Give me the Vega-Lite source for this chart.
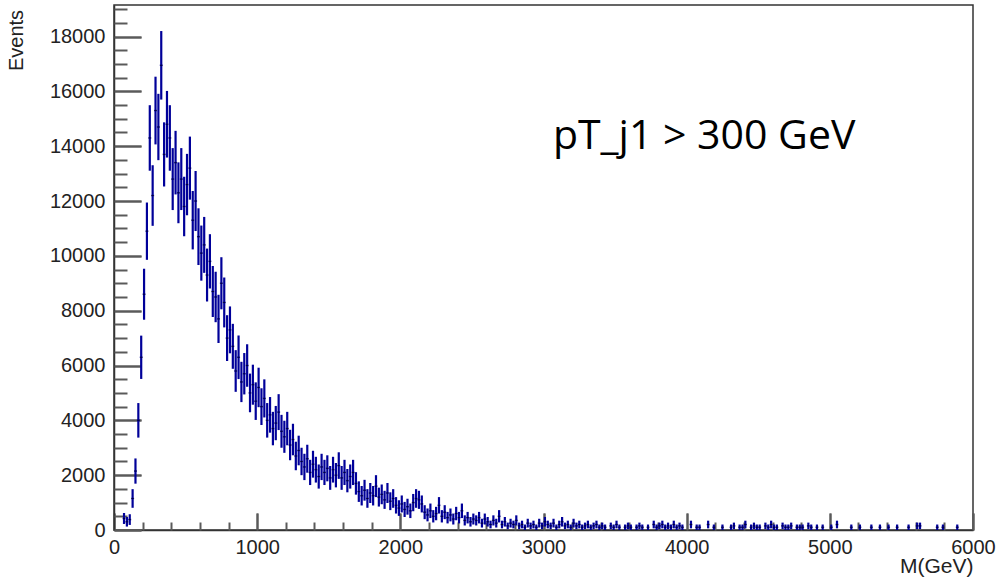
{
  "$schema": "https://vega.github.io/schema/vega-lite/v6.json",
  "width": 859,
  "height": 525,
  "autosize": {"type": "none"},
  "padding": {"left": 114, "top": 5, "right": 29, "bottom": 50},
  "background": "white",
  "config": {"view": {"stroke": "#333333", "strokeWidth": 1.5}, "font": "Liberation Sans"},
  "datasets": {
    "hist": [
      {"m":70,"n":420,"e":200},{"m":90,"n":300,"e":175},{"m":110,"n":380,"e":195},{"m":130,"n":1150,"e":340},
      {"m":150,"n":2150,"e":460},{"m":170,"n":4000,"e":630},{"m":190,"n":6300,"e":790},{"m":210,"n":8600,"e":930},
      {"m":230,"n":10900,"e":1045},{"m":250,"n":14300,"e":1195},{"m":270,"n":12200,"e":1105},{"m":290,"n":15300,"e":1235},
      {"m":310,"n":14700,"e":1210},{"m":330,"n":16950,"e":1250},{"m":350,"n":13700,"e":1170},{"m":370,"n":14800,"e":1215},
      {"m":390,"n":14300,"e":1195},{"m":410,"n":12800,"e":1130},{"m":430,"n":13400,"e":1160},{"m":450,"n":12300,"e":1110},
      {"m":470,"n":12800,"e":1130},{"m":490,"n":11800,"e":1085},{"m":510,"n":12600,"e":1120},{"m":530,"n":13200,"e":1150},
      {"m":550,"n":11300,"e":1065},{"m":570,"n":12000,"e":1095},{"m":590,"n":10700,"e":1035},{"m":610,"n":10100,"e":1005},
      {"m":630,"n":10400,"e":1020},{"m":650,"n":9300,"e":965},{"m":670,"n":9800,"e":990},{"m":690,"n":8700,"e":930},
      {"m":710,"n":8500,"e":920},{"m":730,"n":7700,"e":880},{"m":750,"n":9000,"e":950},{"m":770,"n":8300,"e":910},
      {"m":790,"n":7000,"e":835},{"m":810,"n":7300,"e":855},{"m":830,"n":6700,"e":820},{"m":850,"n":5800,"e":760},
      {"m":870,"n":6300,"e":795},{"m":890,"n":5400,"e":735},{"m":910,"n":5700,"e":755},{"m":930,"n":6000,"e":775},
      {"m":950,"n":5000,"e":705},{"m":970,"n":5300,"e":730},{"m":990,"n":4700,"e":685},{"m":1010,"n":5200,"e":720},
      {"m":1030,"n":4500,"e":670},{"m":1050,"n":4800,"e":695},{"m":1070,"n":4000,"e":630},{"m":1090,"n":4200,"e":650},
      {"m":1110,"n":3700,"e":610},{"m":1130,"n":3900,"e":625},{"m":1150,"n":4300,"e":655},{"m":1170,"n":3600,"e":600},
      {"m":1190,"n":3400,"e":585},{"m":1210,"n":3700,"e":610},{"m":1230,"n":3100,"e":555},{"m":1250,"n":3300,"e":575},
      {"m":1270,"n":2700,"e":520},{"m":1290,"n":2900,"e":540},{"m":1310,"n":2500,"e":500},{"m":1330,"n":2300,"e":480},
      {"m":1350,"n":2600,"e":510},{"m":1370,"n":2100,"e":460},{"m":1390,"n":2400,"e":490},{"m":1410,"n":2200,"e":470},
      {"m":1430,"n":1950,"e":440},{"m":1450,"n":2300,"e":480},{"m":1470,"n":2100,"e":460},{"m":1490,"n":2250,"e":475},
      {"m":1510,"n":1900,"e":435},{"m":1530,"n":2200,"e":470},{"m":1550,"n":2000,"e":445},{"m":1570,"n":2350,"e":485},
      {"m":1590,"n":1900,"e":435},{"m":1610,"n":2100,"e":460},{"m":1630,"n":1800,"e":425},{"m":1650,"n":1950,"e":440},
      {"m":1670,"n":2100,"e":460},{"m":1690,"n":1700,"e":410},{"m":1710,"n":1400,"e":375},{"m":1730,"n":1250,"e":355},
      {"m":1750,"n":1450,"e":380},{"m":1770,"n":1150,"e":340},{"m":1790,"n":1350,"e":365},{"m":1810,"n":1250,"e":355},
      {"m":1830,"n":1600,"e":400},{"m":1850,"n":1200,"e":345},{"m":1870,"n":1300,"e":360},{"m":1890,"n":1100,"e":330},
      {"m":1910,"n":1350,"e":365},{"m":1930,"n":1050,"e":325},{"m":1950,"n":1150,"e":340},{"m":1970,"n":900,"e":300},
      {"m":1990,"n":800,"e":285},{"m":2010,"n":950,"e":310},{"m":2030,"n":750,"e":275},{"m":2050,"n":850,"e":290},
      {"m":2070,"n":700,"e":265},{"m":2090,"n":1000,"e":315},{"m":2110,"n":1150,"e":340},{"m":2130,"n":1100,"e":330},
      {"m":2150,"n":950,"e":310},{"m":2170,"n":650,"e":255},{"m":2190,"n":550,"e":235},{"m":2210,"n":700,"e":265},
      {"m":2230,"n":500,"e":225},{"m":2250,"n":600,"e":245},{"m":2270,"n":900,"e":300},{"m":2290,"n":500,"e":225},
      {"m":2310,"n":650,"e":255},{"m":2330,"n":450,"e":210},{"m":2350,"n":550,"e":235},{"m":2370,"n":400,"e":200},
      {"m":2390,"n":600,"e":245},{"m":2410,"n":450,"e":210},{"m":2430,"n":700,"e":265},{"m":2450,"n":350,"e":185},
      {"m":2470,"n":450,"e":210},{"m":2490,"n":300,"e":175},{"m":2510,"n":400,"e":200},{"m":2530,"n":350,"e":185},
      {"m":2550,"n":450,"e":210},{"m":2570,"n":250,"e":160},{"m":2590,"n":400,"e":200},{"m":2610,"n":300,"e":175},
      {"m":2630,"n":200,"e":140},{"m":2650,"n":350,"e":185},{"m":2670,"n":250,"e":160},{"m":2690,"n":500,"e":225},
      {"m":2710,"n":200,"e":140},{"m":2730,"n":300,"e":175},{"m":2750,"n":150,"e":120},{"m":2770,"n":250,"e":160},
      {"m":2790,"n":200,"e":140},{"m":2810,"n":350,"e":185},{"m":2830,"n":150,"e":120},{"m":2850,"n":200,"e":140},
      {"m":2870,"n":100,"e":100},{"m":2890,"n":250,"e":160},{"m":2910,"n":150,"e":120},{"m":2930,"n":200,"e":140},
      {"m":2950,"n":100,"e":100},{"m":2970,"n":250,"e":160},{"m":2990,"n":150,"e":120},{"m":3010,"n":300,"e":175},
      {"m":3030,"n":200,"e":140},{"m":3050,"n":150,"e":120},{"m":3070,"n":250,"e":160},{"m":3090,"n":100,"e":100},
      {"m":3110,"n":200,"e":140},{"m":3130,"n":300,"e":175},{"m":3150,"n":150,"e":120},{"m":3170,"n":200,"e":140},
      {"m":3190,"n":100,"e":100},{"m":3210,"n":250,"e":160},{"m":3230,"n":150,"e":120},{"m":3250,"n":200,"e":140},
      {"m":3270,"n":100,"e":100},{"m":3290,"n":150,"e":120},{"m":3310,"n":200,"e":140},{"m":3330,"n":100,"e":100},
      {"m":3350,"n":150,"e":120},{"m":3370,"n":200,"e":140},{"m":3390,"n":100,"e":100},{"m":3410,"n":150,"e":120},
      {"m":3430,"n":100,"e":100},{"m":3470,"n":150,"e":120},{"m":3490,"n":100,"e":100},{"m":3510,"n":200,"e":140},
      {"m":3530,"n":100,"e":100},{"m":3570,"n":100,"e":100},{"m":3590,"n":150,"e":120},{"m":3610,"n":100,"e":100},
      {"m":3650,"n":100,"e":100},{"m":3670,"n":150,"e":120},{"m":3690,"n":100,"e":100},{"m":3730,"n":100,"e":100},
      {"m":3770,"n":200,"e":140},{"m":3790,"n":100,"e":100},{"m":3810,"n":150,"e":120},{"m":3830,"n":200,"e":140},
      {"m":3850,"n":100,"e":100},{"m":3870,"n":150,"e":120},{"m":3890,"n":100,"e":100},{"m":3910,"n":200,"e":140},
      {"m":3930,"n":100,"e":100},{"m":3950,"n":150,"e":120},{"m":3970,"n":100,"e":100},{"m":4030,"n":200,"e":140},
      {"m":4070,"n":100,"e":100},{"m":4090,"n":100,"e":100},{"m":4150,"n":200,"e":140},{"m":4190,"n":100,"e":100},
      {"m":4250,"n":100,"e":100},{"m":4310,"n":100,"e":100},{"m":4330,"n":150,"e":120},{"m":4370,"n":100,"e":100},
      {"m":4390,"n":100,"e":100},{"m":4410,"n":200,"e":140},{"m":4450,"n":100,"e":100},{"m":4470,"n":150,"e":120},
      {"m":4490,"n":100,"e":100},{"m":4510,"n":100,"e":100},{"m":4550,"n":150,"e":120},{"m":4570,"n":100,"e":100},
      {"m":4590,"n":200,"e":140},{"m":4610,"n":100,"e":100},{"m":4630,"n":100,"e":100},{"m":4670,"n":150,"e":120},
      {"m":4690,"n":100,"e":100},{"m":4710,"n":100,"e":100},{"m":4730,"n":150,"e":120},{"m":4770,"n":100,"e":100},
      {"m":4790,"n":100,"e":100},{"m":4810,"n":100,"e":100},{"m":4850,"n":150,"e":120},{"m":4870,"n":100,"e":100},
      {"m":4910,"n":100,"e":100},{"m":4950,"n":100,"e":100},{"m":5010,"n":100,"e":100},{"m":5050,"n":200,"e":140},
      {"m":5150,"n":100,"e":100},{"m":5210,"n":100,"e":100},{"m":5290,"n":100,"e":100},{"m":5350,"n":100,"e":100},
      {"m":5410,"n":100,"e":100},{"m":5470,"n":100,"e":100},{"m":5550,"n":100,"e":100},{"m":5610,"n":150,"e":120},
      {"m":5630,"n":150,"e":120},{"m":5750,"n":100,"e":100},{"m":5790,"n":100,"e":100},{"m":5890,"n":100,"e":100}
    ]
  },
  "resolve": {"axis": {"x": "independent", "y": "independent"}},
  "layer": [
    {
      "data": {"name": "hist"},
      "mark": {"type": "errorbar", "ticks": false, "color": "#000099", "thickness": 2.2},
      "encoding": {
        "x": {
          "field": "m", "type": "quantitative",
          "scale": {"domain": [0, 6000], "nice": false, "zero": false},
          "axis": {
            "orient": "bottom",
            "title": "M(GeV)",
            "values": [0,1000,2000,3000,4000,5000,6000],
            "format": "d",
            "ticks": true, "tickSize": -17, "tickColor": "#5a5a5a", "tickWidth": 2,
            "domainColor": "#333333", "domainWidth": 1.5,
            "grid": false,
            "labelFont": "Liberation Sans", "labelFontSize": 20, "labelColor": "#222222",
            "labelPadding": 24, "labelFlush": false, "labelOverlap": false,
            "titleFont": "Liberation Sans", "titleFontSize": 21, "titleFontWeight": "normal", "titleColor": "#222222",
            "titleX": 859, "titleY": 42, "titleAlign": "right", "titleAnchor": null, "titleBaseline": "alphabetic"
          }
        },
        "y": {
          "field": "n", "type": "quantitative",
          "scale": {"domain": [0, 19150], "nice": false},
          "axis": {
            "orient": "left",
            "title": "Events",
            "values": [0,2000,4000,6000,8000,10000,12000,14000,16000,18000],
            "format": "d",
            "ticks": true, "tickSize": -27, "tickColor": "#5a5a5a", "tickWidth": 2,
            "domainColor": "#333333", "domainWidth": 1.5,
            "grid": false,
            "labelFont": "Liberation Sans", "labelFontSize": 20, "labelColor": "#222222",
            "labelPadding": 36, "labelFlush": false, "labelOverlap": false,
            "titleFont": "Liberation Sans", "titleFontSize": 20, "titleFontWeight": "normal", "titleColor": "#222222",
            "titleX": -92, "titleY": 35, "titleAlign": "center", "titleAnchor": null, "titleBaseline": "alphabetic", "titleAngle": -90
          }
        },
        "yError": {"field": "e"}
      }
    },
    {
      "data": {"name": "hist"},
      "mark": {"type": "tick", "orient": "horizontal", "size": 3, "thickness": 1.5, "color": "#000099"},
      "encoding": {
        "x": {
          "field": "m", "type": "quantitative",
          "axis": {
            "orient": "top", "offset": -525,
            "title": null,
            "values": [200,400,600,800,1200,1400,1600,1800,2200,2400,2600,2800,3200,3400,3600,3800,4200,4400,4600,4800,5200,5400,5600,5800],
            "labels": false, "domain": false, "grid": false,
            "ticks": true, "tickSize": 8, "tickColor": "#5a5a5a", "tickWidth": 2
          }
        },
        "y": {
          "field": "n", "type": "quantitative",
          "axis": {
            "orient": "right", "offset": -859,
            "title": null,
            "values": [500,1000,1500,2500,3000,3500,4500,5000,5500,6500,7000,7500,8500,9000,9500,10500,11000,11500,12500,13000,13500,14500,15000,15500,16500,17000,17500,18500,19000],
            "labels": false, "domain": false, "grid": false,
            "ticks": true, "tickSize": 13, "tickColor": "#5a5a5a", "tickWidth": 2
          }
        }
      }
    },
    {
      "data": {"name": "hist"},
      "mark": {"type": "tick", "orient": "horizontal", "size": 2, "thickness": 1, "color": "#000000"},
      "encoding": {
        "x": {
          "field": "m", "type": "quantitative",
          "axis": {
            "orient": "bottom",
            "title": null,
            "values": [0,1000,2000,3000,4000,5000,6000],
            "labels": false, "domain": false, "grid": false,
            "ticks": true, "tickSize": -17, "tickColor": "#5a5a5a", "tickWidth": 2
          }
        },
        "y": {
          "field": "n", "type": "quantitative",
          "axis": {
            "orient": "left",
            "title": null,
            "values": [0,2000,4000,6000,8000,10000,12000,14000,16000,18000],
            "labels": false, "domain": false, "grid": false,
            "ticks": true, "tickSize": -27, "tickColor": "#5a5a5a", "tickWidth": 2
          }
        }
      }
    },
    {
      "data": {"values": [{"x": 3066, "y": 13900, "label": "pT_j1 > 300 GeV"}]},
      "mark": {"type": "text", "align": "left", "baseline": "alphabetic", "font": "Open Sans", "fontSize": 41, "color": "#000000"},
      "encoding": {
        "x": {"field": "x", "type": "quantitative", "axis": null},
        "y": {"field": "y", "type": "quantitative", "axis": null},
        "text": {"field": "label"}
      }
    }
  ]
}
